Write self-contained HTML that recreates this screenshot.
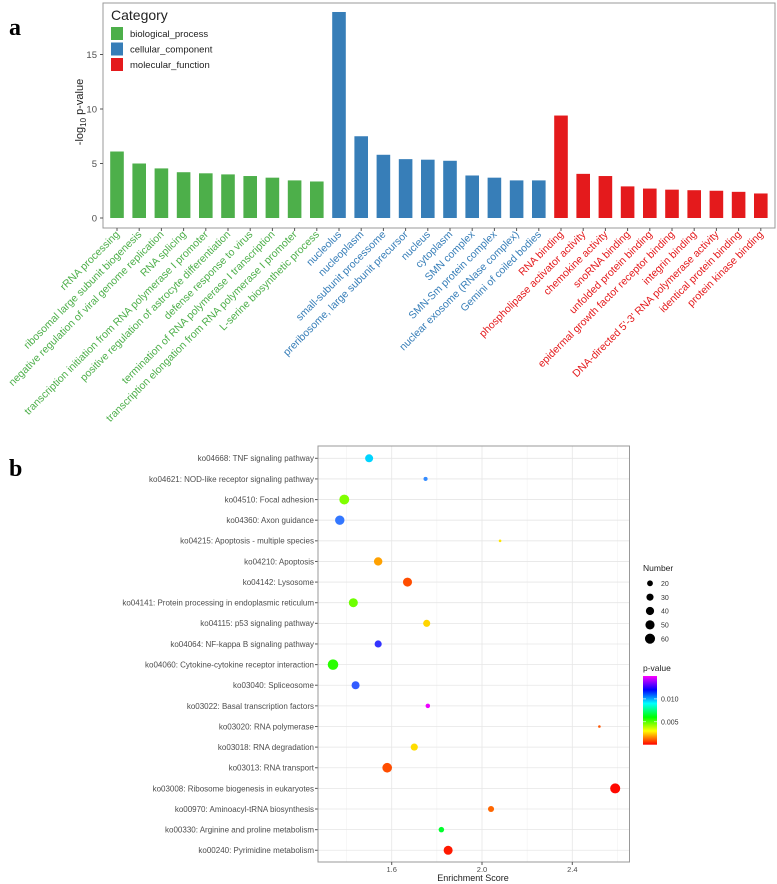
<!DOCTYPE html>
<html><head><meta charset="utf-8"><style>
html,body{margin:0;padding:0;background:#fff;}
svg{display:block;font-family:"Liberation Sans","DejaVu Sans",sans-serif;}
</style></head><body>
<svg id="chart" width="777" height="884" viewBox="0 0 777 884">
<text x="9" y="35" font-family="Liberation Serif,serif" font-weight="bold" font-size="24">a</text>
<text x="9" y="476" font-family="Liberation Serif,serif" font-weight="bold" font-size="24">b</text>
<g id="pa"></g>
<g id="pb"></g>
</svg>
<script>
// ---------- Panel a data ----------
const goTerms = ["rRNA processing","ribosomal large subunit biogenesis","negative regulation of viral genome replication","RNA splicing","transcription initiation from RNA polymerase I promoter","positive regulation of astrocyte differentiation","defense response to virus","termination of RNA polymerase I transcription","transcription elongation from RNA polymerase I promoter","L-serine biosynthetic process",
"nucleolus","nucleoplasm","small-subunit processome","preribosome, large subunit precursor","nucleus","cytoplasm","SMN complex","SMN-Sm protein complex","nuclear exosome (RNase complex)","Gemini of coiled bodies",
"RNA binding","phospholipase activator activity","chemokine activity","snoRNA binding","unfolded protein binding","epidermal growth factor receptor binding","integrin binding","DNA-directed 5'-3' RNA polymerase activity","identical protein binding","protein kinase binding"];
const goValues = [6.1,5.0,4.55,4.2,4.1,4.0,3.85,3.7,3.45,3.35, 18.9,7.5,5.8,5.4,5.35,5.25,3.9,3.7,3.45,3.45, 9.4,4.05,3.85,2.9,2.7,2.6,2.55,2.5,2.4,2.25];
const goCategory = ["biological_process","biological_process","biological_process","biological_process","biological_process","biological_process","biological_process","biological_process","biological_process","biological_process","cellular_component","cellular_component","cellular_component","cellular_component","cellular_component","cellular_component","cellular_component","cellular_component","cellular_component","cellular_component","molecular_function","molecular_function","molecular_function","molecular_function","molecular_function","molecular_function","molecular_function","molecular_function","molecular_function","molecular_function"];
const categoryNames = ["biological_process","cellular_component","molecular_function"];
const goTicks = [0,5,10,15];

// ---------- Panel b data ----------
const keggTerms = ["ko04668: TNF signaling pathway","ko04621: NOD-like receptor signaling pathway","ko04510: Focal adhesion","ko04360: Axon guidance","ko04215: Apoptosis - multiple species","ko04210: Apoptosis","ko04142: Lysosome","ko04141: Protein processing in endoplasmic reticulum","ko04115: p53 signaling pathway","ko04064: NF-kappa B signaling pathway","ko04060: Cytokine-cytokine receptor interaction","ko03040: Spliceosome","ko03022: Basal transcription factors","ko03020: RNA polymerase","ko03018: RNA degradation","ko03013: RNA transport","ko03008: Ribosome biogenesis in eukaryotes","ko00970: Aminoacyl-tRNA biosynthesis","ko00330: Arginine and proline metabolism","ko00240: Pyrimidine metabolism"];
const keggScore = [1.50,1.75,1.39,1.37,2.08,1.54,1.67,1.43,1.755,1.54,1.34,1.44,1.76,2.52,1.70,1.58,2.59,2.04,1.82,1.85];
const keggNumber = [38,10,58,52,4,42,48,48,30,30,66,38,12,4,30,55,60,22,18,48];
const keggPvalue = [0.0095,0.0107,0.0045,0.011,0.0027,0.0019,0.0009,0.0047,0.0025,0.012,0.0055,0.0114,0.0148,0.001,0.0026,0.0009,0.0001,0.0012,0.0065,0.0003];
const xTicks = [1.6,2.0,2.4];
const xMinor = [1.4,1.8,2.2,2.6];
const sizeLegend = [20,30,40,50,60];
const pTicks = [0.005,0.010];

const NS="http://www.w3.org/2000/svg";
function mk(tag,attrs,parent,text){const e=document.createElementNS(NS,tag);for(const k in attrs)e.setAttribute(k,attrs[k]);if(text!==undefined)e.textContent=text;parent.appendChild(e);return e;}
const catColor={"biological_process":"#4daf4a","cellular_component":"#377eb8","molecular_function":"#e41a1c"};

// ---------- Panel a ----------
const pa=document.getElementById('pa');
const aL=103,aR=775,aT=3,aB=228;
const ya=v=>218-v*10.9;
const xa=i=>117+i*22.2;
const frameA=mk('rect',{x:aL,y:aT,width:aR-aL,height:aB-aT,fill:'#fff',stroke:'#999','stroke-width':1},pa);


goTicks.forEach(t=>{
  const tl=mk('text',{x:aL-6,y:ya(t)+3.5,'text-anchor':'end','font-size':9.5,fill:'#4d4d4d'},pa,String(t));
  
  
  mk('line',{x1:aL-3,x2:aL,y1:ya(t),y2:ya(t),stroke:'#555'},pa);
});
const yt=mk('text',{x:0,y:0,transform:'translate(83,112) rotate(-90)','text-anchor':'middle','font-size':11,fill:'#222'},pa);


mk('tspan',{},yt,'-log');mk('tspan',{'font-size':8,dy:3},yt,'10');mk('tspan',{dy:-3},yt,' p-value');
goValues.forEach((v,i)=>{
  const b=mk('rect',{x:xa(i)-6.8,y:ya(v),width:13.6,height:ya(0)-ya(v),fill:catColor[goCategory[i]]},pa);
  
  
  mk('line',{x1:xa(i),x2:xa(i),y1:aB,y2:aB+3,stroke:'#555'},pa);
  const x=xa(i)+3,y=aB+7;
  const l=mk('text',{x:x,y:y,'text-anchor':'end','font-size':10.5,fill:catColor[goCategory[i]],transform:`rotate(-45 ${x} ${y})`},pa,goTerms[i]);
  
  
});
const lgA=mk('g',{},pa);


mk('text',{x:111,y:20,'font-size':14,fill:'#222'},lgA,'Category');
categoryNames.forEach((c,i)=>{
  const y=27+i*15.5;
  const sw=mk('rect',{x:111,y:y,width:12,height:13,fill:catColor[c]},lgA);
  
  
  mk('text',{x:130,y:y+10,'font-size':9.5,fill:'#222'},lgA,c);
});

// ---------- Panel b ----------
const pb=document.getElementById('pb');
const bL=318,bR=629.5,bT=446,bB=862;
const xb=v=>391.7+(v-1.6)*225.75;
const yb=i=>458.3+i*20.63;
const rb=n=>0.65*Math.sqrt(n);
const pcol=p=>{const h=Math.max(0,Math.min(300,p/0.015*300));const l=(h>200&&h<260)?60:50;return `hsl(${h},100%,${l}%)`;};
const fb=mk('rect',{x:bL,y:bT,width:bR-bL,height:bB-bT,fill:'#fff'},pb);


xMinor.forEach(t=>mk('line',{x1:xb(t),x2:xb(t),y1:bT,y2:bB,stroke:'#f2f2f2','stroke-width':0.6},pb));
xTicks.forEach(t=>mk('line',{x1:xb(t),x2:xb(t),y1:bT,y2:bB,stroke:'#e6e6e6','stroke-width':0.8},pb));
keggTerms.forEach((k,i)=>{
  mk('line',{x1:bL,x2:bR,y1:yb(i),y2:yb(i),stroke:'#e6e6e6','stroke-width':0.8},pb);
  mk('line',{x1:bL-3,x2:bL,y1:yb(i),y2:yb(i),stroke:'#555'},pb);
  const l=mk('text',{x:bL-4,y:yb(i)+2.9,'text-anchor':'end','font-size':8,fill:'#4d4d4d'},pb,k);
  
  
});
mk('rect',{x:bL,y:bT,width:bR-bL,height:bB-bT,fill:'none',stroke:'#999','stroke-width':1},pb);
xTicks.forEach(t=>{
  mk('line',{x1:xb(t),x2:xb(t),y1:bB,y2:bB+3,stroke:'#555'},pb);
  const l=mk('text',{x:xb(t),y:bB+10,'text-anchor':'middle','font-size':7.5,fill:'#4d4d4d'},pb,t.toFixed(1));
  
  
});
const xt=mk('text',{x:473,y:881,'text-anchor':'middle','font-size':9,fill:'#222'},pb,'Enrichment Score');


keggScore.forEach((s,i)=>{
  const c=mk('circle',{cx:xb(s),cy:yb(i),r:rb(keggNumber[i]),fill:pcol(keggPvalue[i])},pb);
  
  
});
// size legend
const lgN=mk('g',{},pb);


mk('text',{x:643,y:571,'font-size':8.5,fill:'#222'},lgN,'Number');
sizeLegend.forEach((n,i)=>{
  const y=583.3+i*13.85;
  mk('circle',{cx:650,cy:y,r:rb(n),fill:'#000'},lgN);
  mk('text',{x:661,y:y+2.6,'font-size':7,fill:'#333'},lgN,String(n));
});
// colour legend
const lgP=mk('g',{},pb);


mk('text',{x:643,y:671,'font-size':8.5,fill:'#222'},lgP,'p-value');
const defs=mk('defs',{},lgP);
const gr=mk('linearGradient',{id:'pg',x1:0,y1:1,x2:0,y2:0},defs);
for(let k=0;k<=10;k++)mk('stop',{offset:k/10,'stop-color':`hsl(${k*30},100%,50%)`},gr);
const pTop=676,pBot=744.7;
const yp=p=>pBot-p/0.015*(pBot-pTop);
mk('rect',{x:643,y:pTop,width:14,height:pBot-pTop,fill:'url(#pg)'},lgP);
pTicks.forEach(p=>{
  mk('line',{x1:643,x2:646,y1:yp(p),y2:yp(p),stroke:'#fff','stroke-width':0.6},lgP);
  mk('line',{x1:654,x2:657,y1:yp(p),y2:yp(p),stroke:'#fff','stroke-width':0.6},lgP);
  mk('text',{x:661,y:yp(p)+2.6,'font-size':7,fill:'#333'},lgP,p.toFixed(3));
});
</script>
</body></html>
